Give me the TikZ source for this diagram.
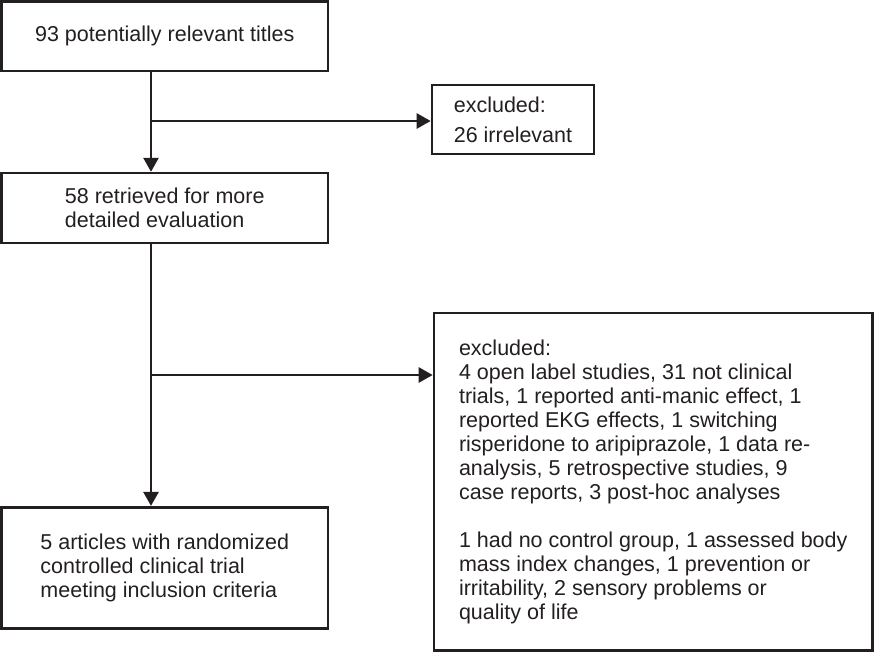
\documentclass[tikz,border=0pt]{standalone}
\usepackage{fontspec}
\setmainfont{Liberation Sans}
\usepackage{tikz}
\usetikzlibrary{positioning,arrows.meta}
\definecolor{ink}{HTML}{231F20}
\tikzset{box node/.style={rectangle,draw=ink,text=ink,line width=2.6pt,align=left,
    font=\fontsize{21.5}{24}\selectfont,inner sep=0pt},
  flow/.style={draw=ink,line width=2.6pt,-{Triangle[width=15pt,length=14pt]}},
}

\begin{document}
\begin{tikzpicture}[x=1pt,y=-1pt]
\useasboundingbox (0,0) rectangle (874,652);

%% left column
\node[box node,minimum width=326.5pt,minimum height=69.5pt] (titles) at (164.75,36.25)
  {93 potentially relevant titles};
\node[box node,minimum width=326.5pt,minimum height=70pt] (retrieved) [below = 99.5pt of titles]
  {58 retrieved for more\\detailed evaluation};
\node[box node,minimum width=326.5pt,minimum height=121pt] (included) [below = 261.5pt of retrieved]
  {5 articles with randomized\\controlled clinical trial\\meeting inclusion criteria};

%% right column
\node[box node,minimum width=162pt,minimum height=69pt,
  font=\fontsize{21.5}{30}\selectfont] (irrelevant) at (513,119.5)
  {excluded:\\26 irrelevant};
\node[box node,minimum width=438.5pt,minimum height=337.5pt] (excluded) at (653.25,481.75)
  {excluded:\\4 open label studies, 31 not clinical\\trials, 1 reported anti-manic effect, 1\\
   reported EKG effects, 1 switching\\risperidone to aripiprazole, 1 data re-\\
   analysis, 5 retrospective studies, 9\\case reports, 3 post-hoc analyses\\[24pt]
   1 had no control group, 1 assessed body\\mass index changes, 1 prevention or\\
   irritability, 2 sensory problems or\\quality of life};

\coordinate (split1) at (151,121);
\coordinate (split2) at (151,375);

\draw[flow] (titles.south -| split1) -- (retrieved.north -| split1);
\draw[flow] (split1) -- (split1 -| irrelevant.west);
\draw[flow] (retrieved.south -| split2) -- (included.north -| split2);
\draw[flow] (split2) -- (split2 -| excluded.west);
\end{tikzpicture}
\end{document}
